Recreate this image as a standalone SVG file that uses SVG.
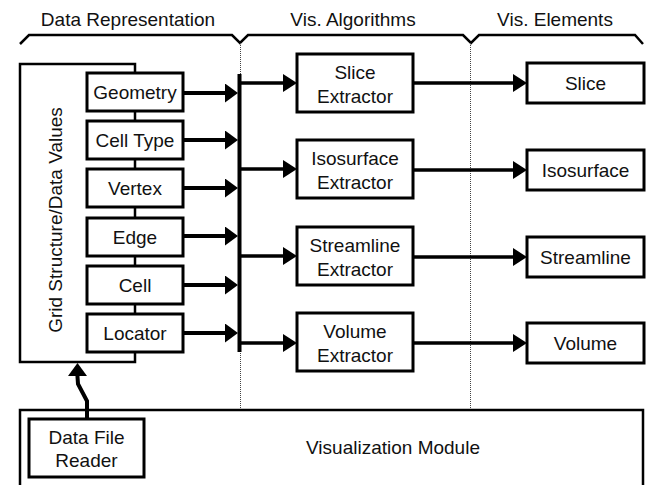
<svg xmlns="http://www.w3.org/2000/svg" width="649" height="485" viewBox="0 0 649 485">
<defs>
<style>
text{font-family:"Liberation Sans",Arial,sans-serif;font-size:19px;fill:#111;text-anchor:middle}
.box{fill:#fff;stroke:#000;stroke-width:3}
.frame{fill:none;stroke:#000;stroke-width:2.5}
.brace{fill:none;stroke:#000;stroke-width:2.5;stroke-linejoin:miter}
.dot{stroke:#444;stroke-width:1;stroke-dasharray:1 1;fill:none}
.arr{stroke:#000;fill:none;stroke-width:4;marker-end:url(#ah)}
.arr2{stroke:#000;fill:none;stroke-width:3.5;marker-end:url(#ah2)}
.link{stroke:#000;stroke-width:2;fill:none}
</style>
<marker id="ah" markerUnits="userSpaceOnUse" markerWidth="13" markerHeight="19" refX="0" refY="9.5" orient="auto">
<path d="M0,0 L13,9.5 L0,19 Z" fill="#000"/>
</marker>
<marker id="ah2" markerUnits="userSpaceOnUse" markerWidth="14" markerHeight="18" refX="0" refY="9" orient="auto">
<path d="M0,0 L14,9 L0,18 Z" fill="#000"/>
</marker>
</defs>
<rect width="649" height="485" fill="#fff"/>

<g id="headers">
<path class="brace" d="M20,44 L29,35 H232 L240,43 L248,35 H463 L471,43 L479,35 H635 L643,44"/>
<text x="128" y="26">Data Representation</text>
<text x="353" y="26">Vis. Algorithms</text>
<text x="555" y="26">Vis. Elements</text>
</g>

<g id="separators">
<line class="dot" x1="240.5" y1="43" x2="240.5" y2="410"/>
<line class="dot" x1="470.5" y1="43" x2="470.5" y2="410"/>
</g>

<g id="visualization-module">
<path class="frame" d="M20,490 V410 H643 V490"/>
<text x="393" y="454">Visualization Module</text>
</g>

<g id="grid-structure">
<rect class="frame" x="20" y="64" width="115" height="298"/>
<text transform="translate(62,220) rotate(-90)" x="0" y="0">Grid Structure/Data Values</text>
</g>

<g id="geometry"><rect class="box" x="87" y="73" width="96" height="38"/><text x="135" y="99">Geometry</text></g>
<g id="cell-type"><rect class="box" x="87" y="121" width="96" height="38"/><text x="135" y="147">Cell Type</text></g>
<g id="vertex"><rect class="box" x="87" y="169" width="96" height="38"/><text x="135" y="195">Vertex</text></g>
<g id="edge"><rect class="box" x="87" y="218" width="96" height="38"/><text x="135" y="244">Edge</text></g>
<g id="cell"><rect class="box" x="87" y="266" width="96" height="38"/><text x="135" y="292">Cell</text></g>
<g id="locator"><rect class="box" x="87" y="314" width="96" height="38"/><text x="135" y="340">Locator</text></g>

<g id="slice-extractor"><rect class="box" x="297" y="54" width="116" height="58"/><text x="355" y="79">Slice</text><text x="355" y="103">Extractor</text></g>
<g id="isosurface-extractor"><rect class="box" x="297" y="140" width="116" height="58"/><text x="355" y="165">Isosurface</text><text x="355" y="189">Extractor</text></g>
<g id="streamline-extractor"><rect class="box" x="297" y="227" width="116" height="58"/><text x="355" y="252">Streamline</text><text x="355" y="276">Extractor</text></g>
<g id="volume-extractor"><rect class="box" x="297" y="313" width="116" height="58"/><text x="355" y="338">Volume</text><text x="355" y="362">Extractor</text></g>

<g id="slice"><rect class="box" x="527" y="63" width="117" height="40"/><text x="585.5" y="90">Slice</text></g>
<g id="isosurface"><rect class="box" x="527" y="150" width="117" height="40"/><text x="585.5" y="177">Isosurface</text></g>
<g id="streamline"><rect class="box" x="527" y="237" width="117" height="40"/><text x="585.5" y="264">Streamline</text></g>
<g id="volume"><rect class="box" x="527" y="323" width="117" height="40"/><text x="585.5" y="350">Volume</text></g>

<g id="data-file-reader"><rect class="box" x="29" y="419" width="115" height="58"/><text x="86.5" y="444">Data File</text><text x="86.5" y="467">Reader</text></g>

<g id="connectors">
<line x1="239.5" y1="74" x2="239.5" y2="352" stroke="#000" stroke-width="4"/>
<path class="arr" d="M183,93 H225"/>
<path class="arr" d="M183,140 H225"/>
<path class="arr" d="M183,188 H225"/>
<path class="arr" d="M183,236 H225"/>
<path class="arr" d="M183,285 H225"/>
<path class="arr" d="M183,333 H225"/>
<path class="arr2" d="M241,83 H283"/>
<path class="arr2" d="M241,169 H283"/>
<path class="arr2" d="M241,256 H283"/>
<path class="arr2" d="M241,343 H283"/>
<path class="arr2" d="M413,83 H513"/>
<path class="arr2" d="M413,170 H513"/>
<path class="arr2" d="M413,257 H513"/>
<path class="arr2" d="M413,343 H513"/>
<path class="arr" d="M87,419 V401 L78,384 L77.5,377 L77.5,376"/>
</g>
</svg>
